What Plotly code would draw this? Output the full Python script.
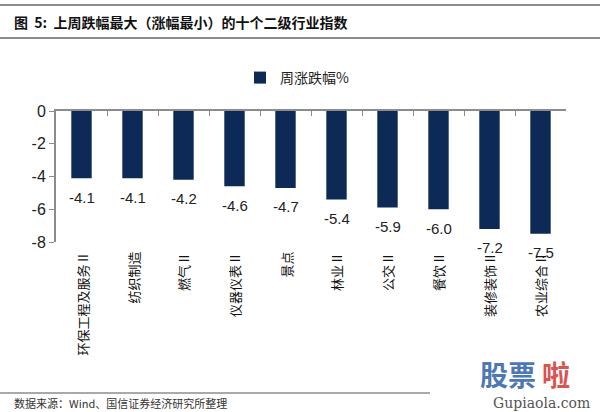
import plotly.graph_objects as go

categories = ["环保工程及服务Ⅱ", "纺织制造", "燃气Ⅱ", "仪器仪表Ⅱ", "景点",
              "林业Ⅱ", "公交Ⅱ", "餐饮Ⅱ", "装修装饰Ⅱ", "农业综合Ⅱ"]
values = [-4.1, -4.1, -4.2, -4.6, -4.7, -5.4, -5.9, -6.0, -7.2, -7.5]
series_name = "周涨跌幅%"
y_ticks = [0, -2, -4, -6, -8]

fig = go.Figure()
fig.add_trace(go.Bar(
    x=categories, y=values, name=series_name,
    marker=dict(color="#0c2a55", line=dict(width=0)),
    width=0.4, cliponaxis=False,
))

annotations = []
for c, v in zip(categories, values):
    annotations.append(dict(
        x=c, y=v, xref="x", yref="y", text=f"{v:.1f}",
        showarrow=False, xanchor="center", yanchor="middle", yshift=-19,
        font=dict(family="Liberation Sans, Arial", size=15, color="#222"),
    ))
for c in categories:
    annotations.append(dict(
        x=c, y=-8, xref="x", yref="y", text=c, textangle=-90,
        showarrow=False, xanchor="center", yanchor="top", yshift=-8,
        font=dict(family="Noto Sans CJK SC", size=13, color="#111"),
    ))

annotations += [
    dict(x=12, y=22, xref="paper", yref="paper", text="<b>图  5:  上周跌幅最大（涨幅最小）的十个二级行业指数</b>",
         showarrow=False, xanchor="left", yanchor="middle",
         font=dict(family="Noto Sans CJK SC", size=14, color="#111")),
    dict(x=12, y=403, text="数据来源：Wind、国信证券经济研究所整理",
         showarrow=False, xanchor="left", yanchor="middle",
         font=dict(family="Noto Sans CJK SC", size=11, color="#333")),
    dict(x=592, y=403, text="Gupiaola.com", showarrow=False, xanchor="right", yanchor="middle",
         font=dict(family="DejaVu Serif", size=14, color="#555")),
    dict(x=538, y=374, text="<b>股票</b>", showarrow=False, xanchor="right", yanchor="middle",
         font=dict(family="Noto Sans CJK SC", size=28, color="#4d78b5")),
    dict(x=540, y=374, text="<b>啦</b>", showarrow=False, xanchor="left", yanchor="middle",
         font=dict(family="Noto Sans CJK SC", size=28, color="#d9534f")),
]
W, H = 600, 412
ML, MR, MT, MB = 56, 34, 111, 170
pw, ph = W - ML - MR, H - MT - MB
for a in annotations:
    if a.get("xref") == "x":
        continue
    a["xref"] = "paper"; a["yref"] = "paper"
    a["x"] = (a["x"] - ML) / pw
    a["y"] = 1 - (a["y"] - MT) / ph

def px_line(x0, y0, x1, y1, color="#8c8c8c", w=2):
    return dict(type="line", xref="paper", yref="paper",
                x0=(x0 - ML) / pw, x1=(x1 - ML) / pw,
                y0=1 - (y0 - MT) / ph, y1=1 - (y1 - MT) / ph,
                line=dict(color=color, width=w))

shapes = [
    px_line(0, 5, 600, 5),
    px_line(0, 38, 600, 38),
    px_line(0, 393, 430, 393, w=1.5),
]

fig.update_layout(
    width=W, height=H,
    margin=dict(l=ML, r=MR, t=MT, b=MB, autoexpand=False),
    paper_bgcolor="white", plot_bgcolor="white",
    showlegend=True,
    legend=dict(orientation="h", x=(240 - ML) / pw, y=1 - (78 - MT) / ph,
                xanchor="left", yanchor="middle",
                font=dict(family="Noto Sans CJK SC", size=14, color="#222"),
                itemwidth=30),
    xaxis=dict(side="top", showline=True, linecolor="#8c8c8c", linewidth=2,
               ticks="inside", tickson="boundaries", ticklen=5, tickcolor="#8c8c8c",
               showticklabels=False, showgrid=False, zeroline=False),
    yaxis=dict(range=[-8, 0], tickvals=y_ticks, ticktext=[str(t) for t in y_ticks],
               showline=True, linecolor="#8c8c8c", linewidth=2,
               ticks="outside", ticklen=5, tickcolor="#8c8c8c",
               showgrid=False, zeroline=False,
               tickfont=dict(family="Liberation Sans, Arial", size=16, color="#222")),
    annotations=annotations,
    shapes=shapes,
    bargap=0.6,
)

fig.write_html("out.html", config={"displayModeBar": False},
               post_script="document.body.style.margin='0';document.body.style.overflow='hidden';")
